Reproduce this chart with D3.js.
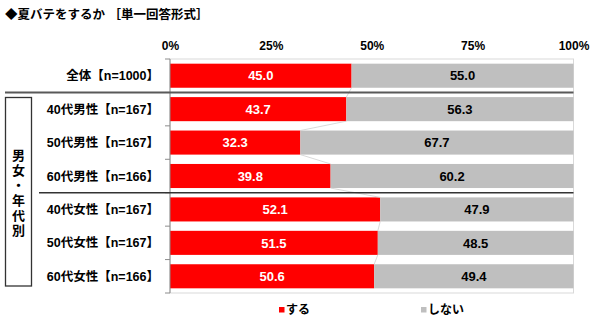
<!DOCTYPE html>
<html>
<head>
<meta charset="utf-8">
<script src="https://cdn.jsdelivr.net/npm/d3@7"></script>
<style>
  html, body { margin: 0; padding: 0; background: #fff; }
  svg { display: block; }
  text { font-family: "Liberation Sans", Arial, "Noto Sans CJK JP", sans-serif; font-weight: bold; }
</style>
</head>
<body>
<svg id="chart" width="600" height="323"></svg>
<script>
// Survey: 夏バテをするか (single answer), share per respondent group
const categories = [
  "全体【n=1000】",
  "40代男性【n=167】",
  "50代男性【n=167】",
  "60代男性【n=166】",
  "40代女性【n=167】",
  "50代女性【n=167】",
  "60代女性【n=166】"
];
const suru = [45.0, 43.7, 32.3, 39.8, 52.1, 51.5, 50.6];     // する
const shinai = [55.0, 56.3, 67.7, 60.2, 47.9, 48.5, 49.4];   // しない
const seriesNames = ["する", "しない"];
const tickValues = [0, 25, 50, 75, 100];
const groupLabel = ["男", "女", "・", "年", "代", "別"];
const titleText = "◆夏バテをするか ［単一回答形式］";

const colors = { suru: "#ff0000", shinai: "#bfbfbf" };

const svg = d3.select("#chart");
const plotL = 170, plotR = 573.5, plotT = 59, plotB = 293;

const x = d3.scaleLinear().domain([0, 100]).range([plotL, plotR]);
const y = d3.scaleBand().domain(categories).range([plotT, plotB])
  .paddingInner(0.28).paddingOuter(0.14);

// Title
svg.append("text")
  .attr("x", 5).attr("y", 19)
  .attr("font-size", 12.5)
  .attr("fill", "#000")
  .text(titleText);

// Plot area border
svg.append("rect")
  .attr("x", plotL).attr("y", plotT)
  .attr("width", plotR - plotL).attr("height", plotB - plotT)
  .attr("fill", "none").attr("stroke", "#d9d9d9").attr("stroke-width", 1);

// Top percentage axis
const xAxis = d3.axisTop(x).tickValues(tickValues)
  .tickFormat(d => d + "%").tickSize(0).tickPadding(0);
const gx = svg.append("g").attr("transform", `translate(0,${50})`).call(xAxis);
gx.select(".domain").remove();
gx.selectAll("text").attr("font-size", 12).attr("fill", "#000")
  .style("font-family", "\"Liberation Sans\", Arial, sans-serif").style("font-weight", "bold");

// Stacked data
const rows = categories.map((c, i) => ({ cat: c, suru: suru[i], shinai: shinai[i] }));
const stack = d3.stack().keys(["suru", "shinai"])(rows);

const layers = svg.append("g").selectAll("g").data(stack).join("g")
  .attr("fill", d => colors[d.key]);
layers.selectAll("rect").data(d => d).join("rect")
  .attr("x", d => x(d[0]))
  .attr("y", d => y(d.data.cat))
  .attr("width", d => x(d[1]) - x(d[0]))
  .attr("height", y.bandwidth());

// Series lines joining the red segment ends
const bh = y.bandwidth();
const seriesLines = svg.append("g").attr("stroke", "#cfcfcf").attr("stroke-width", 0.8);
for (let i = 0; i < categories.length - 1; i++) {
  seriesLines.append("line")
    .attr("x1", x(suru[i])).attr("y1", y(categories[i]) + bh)
    .attr("x2", x(suru[i + 1])).attr("y2", y(categories[i + 1]));
}

// Value labels
layers.selectAll("text").data(d => d.map(v => ({ key: d.key, v }))).join("text")
  .attr("x", d => (x(d.v[0]) + x(d.v[1])) / 2)
  .attr("y", d => y(d.v.data.cat) + bh / 2)
  .attr("dy", "0.36em")
  .attr("text-anchor", "middle")
  .attr("font-size", 13)
  .attr("fill", d => d.key === "suru" ? "#fff" : "#000")
  .text(d => (d.key === "suru" ? d.v.data.suru : d.v.data.shinai).toFixed(1));

// Category axis line with boundary ticks
const step = y.step();
const bounds = d3.range(categories.length + 1).map(i => plotT + i * step);
svg.append("line")
  .attr("x1", plotL).attr("x2", plotL).attr("y1", plotT).attr("y2", plotB)
  .attr("stroke", "#8c8c8c").attr("stroke-width", 1);
svg.append("g").selectAll("line").data(bounds).join("line")
  .attr("x1", plotL - 5).attr("x2", plotL)
  .attr("y1", d => d).attr("y2", d => d)
  .attr("stroke", "#8c8c8c").attr("stroke-width", 1);

// Category labels
svg.append("g").selectAll("text").data(categories).join("text")
  .attr("x", 159)
  .attr("y", d => y(d) + bh / 2)
  .attr("dy", "0.36em")
  .attr("text-anchor", "end")
  .attr("font-size", 12.5)
  .attr("fill", "#000")
  .text(d => d);

// Group separators
svg.append("line")
  .attr("x1", 5).attr("x2", plotR)
  .attr("y1", bounds[1]).attr("y2", bounds[1])
  .attr("stroke", "#595959").attr("stroke-width", 2);
svg.append("line")
  .attr("x1", 39).attr("x2", plotR)
  .attr("y1", bounds[4]).attr("y2", bounds[4])
  .attr("stroke", "#333").attr("stroke-width", 1.5);

// Group label box (男女・年代別)
svg.append("rect")
  .attr("x", 5.5).attr("y", 97.5).attr("width", 26).attr("height", 188.5)
  .attr("fill", "none").attr("stroke", "#333").attr("stroke-width", 1.3);
svg.append("g").selectAll("text").data(groupLabel).join("text")
  .attr("x", 18.5)
  .attr("y", (d, i) => 155 + i * 15)
  .attr("dy", "0.36em")
  .attr("text-anchor", "middle")
  .attr("font-size", 13)
  .attr("fill", "#000")
  .text(d => d);

// Legend
const legendX = [279, 421];
const legend = svg.append("g").selectAll("g").data(seriesNames).join("g")
  .attr("transform", (d, i) => `translate(${legendX[i]},307)`);
legend.append("rect")
  .attr("width", 5.5).attr("height", 5.5)
  .attr("fill", (d, i) => i === 0 ? colors.suru : colors.shinai);
legend.append("text")
  .attr("x", 7).attr("y", 3)
  .attr("dy", "0.36em")
  .attr("font-size", 12)
  .attr("fill", "#000")
  .text(d => d);
</script>
</body>
</html>
